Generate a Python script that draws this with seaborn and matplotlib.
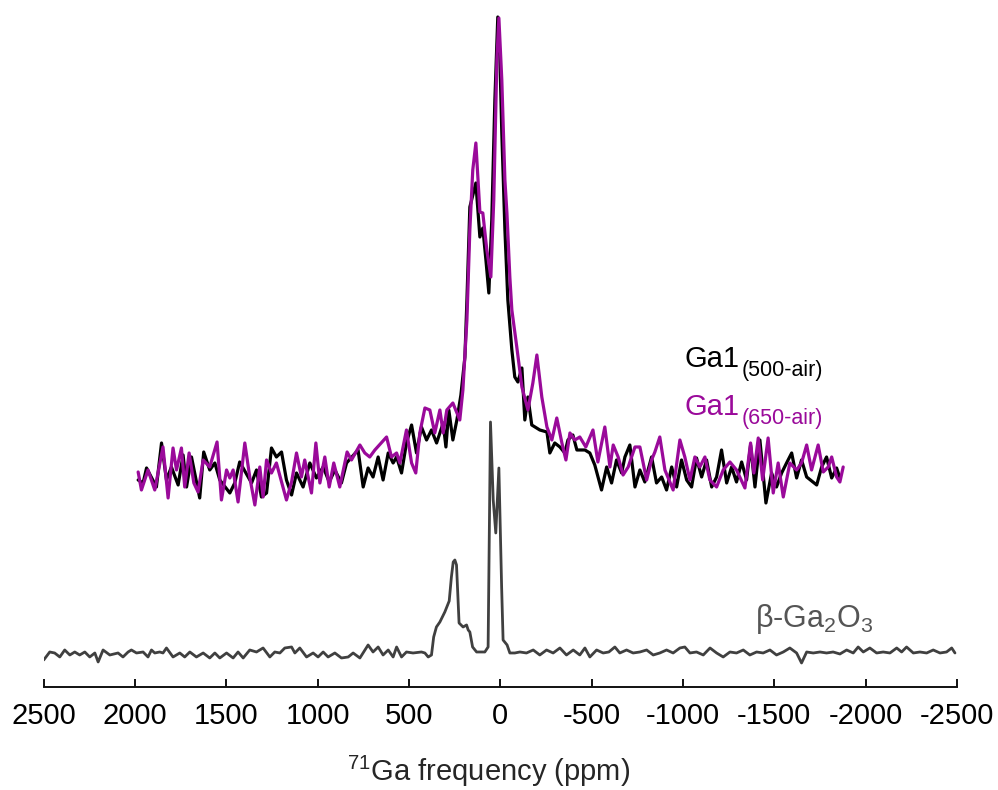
import matplotlib
matplotlib.use("Agg")
import matplotlib.pyplot as plt
import numpy as np
import pandas as pd
import seaborn as sns

# ---------------------------------------------------------------------------
# 71Ga NMR spectra (chemical shift in ppm, intensity in arbitrary units)
# ---------------------------------------------------------------------------
ga1_500_ppm = [1983, 1956, 1937, 1883, 1855, 1828, 1801, 1764, 1737, 1718,
               1691, 1646, 1624, 1591, 1563, 1536, 1481, 1454, 1427, 1362,
               1335, 1308, 1280, 1253, 1226, 1198, 1171, 1143, 1116, 1080,
               1043, 1007, 970, 937, 906, 870, 842, 779, 751, 724,
               697, 669, 642, 614, 587, 568, 541, 514, 486, 459,
               432, 404, 377, 349, 313, 298, 282, 260, 238, 216,
               194, 183, 167, 134, 112, 96, 79, 63, 47, 30,
               14, 3, -8, -25, -41, -63, -79, -96, -118, -134,
               -151, -172, -216, -255, -271, -298, -326, -353, -370, -397,
               -419, -463, -490, -517, -554, -582, -609, -636, -664, -682,
               -709, -737, -764, -791, -828, -855, -883, -910, -938, -965,
               -992, -1020, -1047, -1074, -1102, -1129, -1157, -1184, -1211, -1239,
               -1266, -1293, -1321, -1348, -1370, -1394, -1421, -1454, -1485, -1512,
               -1540, -1567, -1595, -1622, -1649, -1677, -1732, -1759, -1786, -1814,
               -1841, -1859]
ga1_500_int = [4, 1, 16, -3, 41, 4, 17, -1, 29, -3,
               27, -14, 32, 14, 21, 4, -9, 1, 22, 1,
               14, -13, -9, 36, 27, 32, 4, -11, 11, -3,
               21, 6, 17, 2, 14, 1, 21, 34, -3, 16,
               7, 27, 4, 31, 21, 27, 11, 41, 59, 31,
               57, 44, 54, 41, 61, 37, 74, 44, 64, 89,
               127, 184, 277, 301, 247, 256, 224, 191, 264, 384,
               467, 429, 351, 254, 184, 134, 107, 102, 116, 64,
               87, 59, 54, 52, 31, 41, 37, 31, 44, 49,
               34, 34, 31, 19, -6, 17, 1, 24, 11, 27,
               39, -3, 14, 2, 27, 1, 7, -6, 17, -3,
               24, 4, -3, 26, 7, 24, -3, 7, 34, 1,
               17, 2, 22, 4, 39, -3, 44, -19, 11, -3,
               11, 21, 31, 6, 24, 7, -1, 17, 27, 6,
               16, 6]

ga1_650_ppm = [1983, 1965, 1929, 1892, 1847, 1819, 1792, 1773, 1746, 1728,
               1704, 1678, 1655, 1627, 1591, 1551, 1527, 1499, 1481, 1463,
               1436, 1399, 1372, 1344, 1317, 1299, 1280, 1253, 1226, 1171,
               1143, 1116, 1089, 1071, 1034, 1010, 988, 961, 937, 912,
               879, 839, 815, 769, 742, 715, 687, 623, 596, 568,
               550, 514, 486, 463, 441, 413, 386, 359, 331, 313,
               293, 260, 222, 205, 183, 167, 151, 134, 112, 96,
               74, 52, 36, 19, 8, -8, -25, -36, -52, -63,
               -90, -118, -151, -178, -200, -227, -255, -282, -309, -337,
               -359, -381, -408, -435, -468, -507, -534, -572, -600, -618,
               -645, -672, -700, -737, -764, -801, -828, -846, -873, -901,
               -946, -983, -1010, -1038, -1065, -1092, -1120, -1147, -1184, -1220,
               -1257, -1293, -1339, -1370, -1388, -1412, -1436, -1466, -1494, -1521,
               -1549, -1585, -1622, -1649, -1677, -1704, -1740, -1768, -1795, -1814,
               -1841, -1859, -1877]
ga1_650_int = [12, -6, 14, -6, 37, -14, 36, 14, 36, -3,
               31, 1, -8, 24, 17, 42, -16, 14, 6, 14,
               -18, 41, 7, -21, 17, -13, 24, 11, 21, -16,
               2, 31, 7, 24, -9, 41, 1, 27, -3, 21,
               -3, 32, 24, 39, 31, 27, 34, 47, 27, 31,
               21, 54, 21, 11, 51, 76, 74, 51, 74, 51,
               74, 81, 64, 94, 164, 254, 314, 341, 272, 271,
               234, 207, 284, 424, 466, 404, 304, 271, 207, 174,
               137, 97, 74, 101, 129, 87, 57, 44, 66, 41,
               24, 51, 44, 47, 37, 54, 22, 57, 17, 39,
               27, 9, 17, 37, 37, 4, 24, 32, 47, 14,
               -6, 44, 27, 4, 27, 17, 27, 4, -3, 14,
               22, 14, -4, 41, 11, 46, 4, 46, -9, 21,
               -13, 21, 14, 21, 39, 14, 39, 12, 17, 27,
               7, 2, 17]

ga2o3_ppm = [2500, 2467, 2440, 2412, 2385, 2357, 2330, 2303, 2275, 2248,
             2220, 2202, 2175, 2138, 2093, 2066, 2038, 2020, 1992, 1956,
             1929, 1910, 1892, 1865, 1847, 1828, 1792, 1755, 1728, 1700,
             1664, 1627, 1591, 1563, 1536, 1499, 1463, 1436, 1408, 1372,
             1335, 1299, 1262, 1235, 1207, 1180, 1143, 1125, 1098, 1061,
             1025, 998, 970, 943, 906, 870, 833, 806, 769, 724,
             697, 669, 642, 614, 587, 568, 541, 514, 478, 432,
             413, 395, 377, 365, 350, 331, 304, 280, 268, 258, 249, 240,
             226, 204, 185, 176, 167, 152, 130, 85, 67, 54,
             39, 25, 8, -7, -15, -37, -52, -79, -107, -143,
             -180, -216, -253, -289, -326, -362, -399, -435, -463, -490,
             -527, -563, -594, -627, -654, -691, -727, -764, -801, -837,
             -873, -910, -946, -983, -1010, -1038, -1074, -1111, -1148, -1184,
             -1220, -1257, -1293, -1330, -1366, -1403, -1439, -1476, -1512, -1549,
             -1585, -1622, -1649, -1677, -1713, -1750, -1786, -1822, -1859, -1896,
             -1932, -1959, -1987, -2023, -2060, -2096, -2133, -2170, -2197, -2224,
             -2261, -2297, -2334, -2370, -2407, -2443, -2471, -2489]
ga2o3_int = [-3, 5, 4, 0, 7, 2, 5, 2, 5, 0,
             4, -5, 7, 2, 4, 0, 5, 7, 4, 5,
             0, 7, 4, 5, 4, 9, 0, 4, 0, 5,
             0, 4, -1, 4, -1, 4, -1, 5, -1, 7,
             5, 9, 0, 5, 4, 9, 10, 4, 9, 0,
             4, 0, 5, 0, 4, -1, 0, 4, -1, 12,
             5, 10, 2, 7, 0, 10, 0, 5, 4, 5,
             4, 0, 2, 20, 30, 35, 45, 56, 80, 95, 97, 92,
             34, 30, 32, 27, 25, 10, 5, 5, 10, 235,
             157, 124, 189, 70, 17, 12, 4, 4, 5, 4,
             7, 2, 7, 4, 9, 2, 7, 2, 9, 0,
             7, 4, 5, 10, 4, 7, 4, 5, 7, 2,
             4, 7, 4, 9, 10, 4, 5, 2, 9, 4,
             0, 5, 4, 7, 2, 5, 4, 7, 2, 5,
             9, 4, -6, 5, 4, 5, 4, 5, 3, 7,
             4, 10, 5, 9, 4, 5, 4, 9, 5, 10,
             4, 5, 4, 7, 4, 5, 9, 4]

# vertical stacking offsets of the spectra
ga1_offset = 203
ga2o3_offset = 30

tick_values = [2500, 2000, 1500, 1000, 500, 0, -500, -1000, -1500, -2000, -2500]

ga1_500_color = "#000000"
ga1_650_color = "#9a0a9a"
ga2o3_color = "#404040"
ga2o3_text_color = "#555555"

# ---------------------------------------------------------------------------
sns.set_theme(style="white")
plt.rcParams["font.family"] = ["Liberation Sans", "DejaVu Sans"]
plt.rcParams["mathtext.fontset"] = "custom"
plt.rcParams["mathtext.rm"] = "Liberation Sans"
plt.rcParams["mathtext.it"] = "Liberation Sans:italic"
plt.rcParams["mathtext.bf"] = "Liberation Sans:bold"
plt.rcParams["axes.unicode_minus"] = False
plt.rcParams["lines.solid_joinstyle"] = "round"
plt.rcParams["lines.solid_capstyle"] = "round"

df_500 = pd.DataFrame({"ppm": ga1_500_ppm,
                       "signal": np.array(ga1_500_int) + ga1_offset})
df_650 = pd.DataFrame({"ppm": ga1_650_ppm,
                       "signal": np.array(ga1_650_int) + ga1_offset})
df_ref = pd.DataFrame({"ppm": ga2o3_ppm,
                       "signal": np.array(ga2o3_int) + ga2o3_offset})

fig = plt.figure(figsize=(9.98, 7.90), dpi=100)
ax = fig.add_axes([0.0438, 0.1304, 0.9151, 0.8696])

sns.lineplot(data=df_500, x="ppm", y="signal", ax=ax, color=ga1_500_color,
             linewidth=2.3, sort=False, estimator=None, legend=False, zorder=3)
sns.lineplot(data=df_650, x="ppm", y="signal", ax=ax, color=ga1_650_color,
             linewidth=2.3, sort=False, estimator=None, legend=False, zorder=4)
sns.lineplot(data=df_ref, x="ppm", y="signal", ax=ax, color=ga2o3_color,
             linewidth=2.0, sort=False, estimator=None, legend=False, zorder=3)

ax.set_xlim(2500, -2500)
ax.set_ylim(0, 687)
ax.set_xticks(tick_values)
ax.set_xticklabels([str(v) for v in tick_values])
ax.set_yticks([])
ax.set_ylabel("")
ax.set_xlabel("$^{71}$Ga frequency (ppm)", fontsize=21)
ax.xaxis.set_label_coords(0.487, -0.097)

for side in ("left", "right", "top"):
    ax.spines[side].set_visible(False)
ax.spines["bottom"].set_color("#111111")
ax.spines["bottom"].set_linewidth(1.4)
ax.tick_params(axis="x", direction="in", length=6, width=1.4, color="#111111",
               labelsize=21, pad=11, bottom=True, labelcolor="black")
ax.grid(False)

# series labels
for label, sub, color, y in [("Ga1", "(500-air)", ga1_500_color, 320),
                             ("Ga1", "(650-air)", ga1_650_color, 272)]:
    t = ax.text(-1010, y, label, fontsize=21, color=color,
                ha="left", va="baseline")
    ax.annotate(sub, xy=(1.0, 0.0), xycoords=t, xytext=(1, -5.5),
                textcoords="offset points", fontsize=15.5, color=color,
                ha="left", va="bottom")

ax.text(-1394, 60, r"β-Ga$_{2}$O$_{3}$", fontsize=22, color=ga2o3_text_color,
        ha="left", va="baseline")

fig.savefig("out.png", dpi=100, facecolor="white")
